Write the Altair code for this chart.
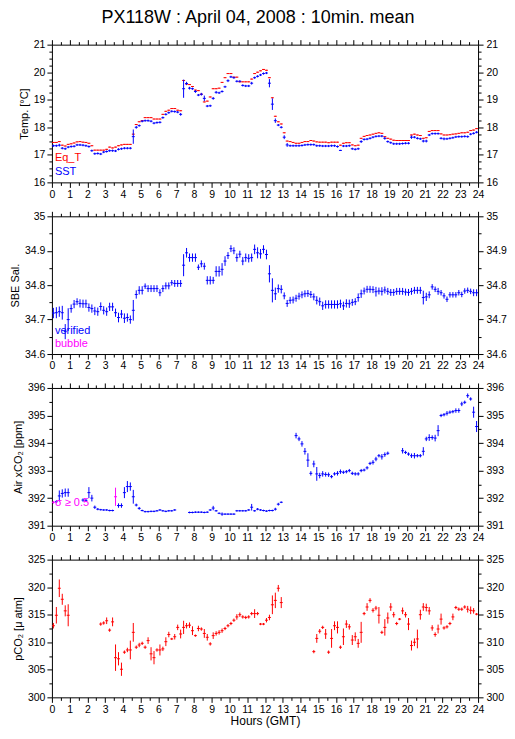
import altair as alt
import pandas as pd

FONT = "Liberation Sans"
RED = "#ff0000"
BLUE = "#0000ff"
MAGENTA = "#ff00ff"

TITLE = "PX118W : April 04, 2008 : 10min. mean"
X_TITLE = "Hours (GMT)"

# ---- axis ticks -------------------------------------------------------
hour_ticks = [h / 2 for h in range(49)]            # 0, 0.5, ... 24
temp_ticks = [16, 16.25, 16.5, 16.75, 17, 17.25, 17.5, 17.75, 18, 18.25, 18.5,
              18.75, 19, 19.25, 19.5, 19.75, 20, 20.25, 20.5, 20.75, 21]
sal_ticks = [34.6, 34.65, 34.7, 34.75, 34.8, 34.85, 34.9, 34.95, 35.0]
co2_ticks = [391, 391.5, 392, 392.5, 393, 393.5, 394, 394.5, 395, 395.5, 396]
pco2_ticks = [300, 302.5, 305, 307.5, 310, 312.5, 315, 317.5, 320, 322.5, 325]

# ---- 10-minute means (144 slots per day, one row per hour) -------------
sst = [
    17.33, 17.33, 17.35, 17.24, 17.22, 17.28,
    17.30, 17.31, 17.36, 17.36, 17.35, 17.33,
    17.30, 17.15, 17.04, 17.05, 17.03, 17.10,
    17.12, 17.15, 17.15, 17.14, 17.20, 17.22,
    17.24, 17.24, 17.24, 17.66, 18.00, 18.06,
    18.22, 18.24, 18.24, 18.22, 18.15, 18.17,
    18.18, 18.35, 18.47, 18.53, 18.58, 18.57,
    18.55, 18.47, 19.40, 19.59, 19.42, 19.40,
    19.30, 19.17, 19.20, 19.05, 18.77, 18.78,
    19.05, 19.27, 19.25, 19.30, 19.47, 19.69,
    19.83, 19.80, 19.67, 19.67, 19.52, 19.50,
    19.50, 19.60, 19.80, 19.85, 19.90, 19.95,
    19.97, 19.60, 18.84, 18.24, 18.08, 18.00,
    17.64, 17.36, 17.33, 17.33, 17.33, 17.33,
    17.34, 17.36, 17.37, 17.37, 17.37, 17.33,
    17.33, 17.32, 17.32, 17.32, 17.33, 17.33,
    17.30, 17.16, 17.32, 17.32, 17.33, 17.22,
    17.20, 17.22, 17.48, 17.56, 17.57, 17.60,
    17.64, 17.67, 17.68, 17.68, 17.60, 17.48,
    17.44, 17.40, 17.40, 17.40, 17.41, 17.42,
    17.42, 17.64, 17.64, 17.60, 17.58, 17.50,
    17.50, 17.72, 17.77, 17.77, 17.77, 17.60,
    17.58, 17.58, 17.60, 17.62, 17.65, 17.66,
    17.66, 17.67, 17.66, 17.75, 17.78, 17.82,
]
sst_err = [
    0.04, 0.04, 0.05, 0.04, 0.04, 0.04,
    0.04, 0.04, 0.04, 0.04, 0.04, 0.04,
    0.04, 0.04, 0.04, 0.04, 0.04, 0.04,
    0.04, 0.04, 0.04, 0.04, 0.04, 0.04,
    0.04, 0.04, 0.04, 0.26, 0.05, 0.04,
    0.04, 0.04, 0.04, 0.04, 0.04, 0.04,
    0.04, 0.04, 0.04, 0.04, 0.04, 0.04,
    0.04, 0.05, 0.33, 0.06, 0.05, 0.04,
    0.05, 0.04, 0.05, 0.10, 0.04, 0.04,
    0.05, 0.05, 0.04, 0.04, 0.04, 0.05,
    0.04, 0.04, 0.04, 0.04, 0.04, 0.04,
    0.04, 0.05, 0.04, 0.04, 0.04, 0.04,
    0.04, 0.15, 0.21, 0.08, 0.04, 0.04,
    0.07, 0.07, 0.04, 0.04, 0.04, 0.04,
    0.04, 0.04, 0.04, 0.04, 0.04, 0.04,
    0.04, 0.04, 0.04, 0.04, 0.04, 0.04,
    0.04, 0.02, 0.04, 0.04, 0.04, 0.04,
    0.04, 0.04, 0.05, 0.04, 0.04, 0.04,
    0.04, 0.04, 0.04, 0.04, 0.05, 0.04,
    0.04, 0.04, 0.04, 0.04, 0.04, 0.04,
    0.04, 0.06, 0.04, 0.04, 0.04, 0.05,
    0.05, 0.04, 0.04, 0.04, 0.04, 0.04,
    0.05, 0.04, 0.04, 0.04, 0.04, 0.04,
    0.04, 0.04, 0.04, 0.04, 0.04, 0.04,
]
eq_t = [
    17.45, 17.45, 17.48, 17.35, 17.32, 17.38,
    17.40, 17.43, 17.47, 17.48, 17.46, 17.45,
    17.42, 17.33, 17.17, 17.17, 17.17, 17.17,
    17.20, 17.28, 17.25, 17.28, 17.33, 17.36,
    17.38, 17.38, 17.38, 17.75, 18.10, 18.20,
    18.24, 18.35, 18.35, 18.35, 18.30, 18.30,
    18.30, 18.47, 18.58, 18.62, 18.68, 18.68,
    18.62, 18.60, 19.70, 19.57, 19.55, 19.48,
    19.35, 19.33, 19.20, 18.92, 18.95, 19.10,
    19.40, 19.40, 19.42, 19.63, 19.80, 19.95,
    19.95, 19.82, 19.82, 19.65, 19.65, 19.65,
    19.65, 19.75, 19.95, 20.00, 20.05, 20.10,
    20.07, 19.80, 19.07, 18.40, 18.20, 18.12,
    17.80, 17.50, 17.48, 17.45, 17.42, 17.42,
    17.45, 17.48, 17.48, 17.52, 17.50, 17.47,
    17.46, 17.46, 17.46, 17.44, 17.46, 17.46,
    17.46, 17.35, 17.42, 17.44, 17.44, 17.36,
    17.33, 17.35, 17.60, 17.67, 17.70, 17.72,
    17.75, 17.78, 17.80, 17.78, 17.66, 17.60,
    17.57, 17.53, 17.52, 17.52, 17.52, 17.52,
    17.52, 17.72, 17.75, 17.72, 17.70, 17.60,
    17.62, 17.85, 17.88, 17.88, 17.88, 17.76,
    17.72, 17.72, 17.73, 17.75, 17.76, 17.78,
    17.80, 17.80, 17.82, 17.88, 17.90, 17.95,
]
salinity = [
    34.719, 34.720, 34.723, 34.720, 34.665, 34.700,
    34.732, 34.745, 34.752, 34.747, 34.746, 34.746,
    34.735, 34.732, 34.725, 34.723, 34.738, 34.727,
    34.723, 34.737, 34.737, 34.720, 34.706, 34.716,
    34.704, 34.706, 34.700, 34.727, 34.773, 34.785,
    34.785, 34.797, 34.790, 34.790, 34.790, 34.790,
    34.778, 34.790, 34.798, 34.798, 34.807, 34.805,
    34.805, 34.805, 34.858, 34.894, 34.880, 34.880,
    34.880, 34.852, 34.862, 34.855, 34.814, 34.814,
    34.814, 34.840, 34.840, 34.846, 34.870, 34.886,
    34.906, 34.900, 34.880, 34.890, 34.870, 34.880,
    34.878, 34.880, 34.904, 34.894, 34.891, 34.904,
    34.889, 34.833, 34.785, 34.775, 34.790, 34.788,
    34.769, 34.747, 34.756, 34.757, 34.762, 34.768,
    34.772, 34.775, 34.776, 34.773, 34.766, 34.756,
    34.752, 34.740, 34.744, 34.744, 34.744, 34.744,
    34.744, 34.746, 34.740, 34.747, 34.746, 34.750,
    34.752, 34.764, 34.775, 34.783, 34.788, 34.788,
    34.787, 34.781, 34.783, 34.782, 34.786, 34.782,
    34.779, 34.779, 34.782, 34.782, 34.782, 34.780,
    34.779, 34.782, 34.785, 34.785, 34.785, 34.764,
    34.766, 34.772, 34.795, 34.788, 34.782, 34.778,
    34.769, 34.759, 34.772, 34.772, 34.772, 34.778,
    34.773, 34.783, 34.785, 34.782, 34.778, 34.778,
]
salinity_err = [
    0.015, 0.016, 0.015, 0.020, 0.022, 0.033,
    0.012, 0.012, 0.010, 0.012, 0.012, 0.012,
    0.012, 0.012, 0.012, 0.012, 0.012, 0.012,
    0.012, 0.012, 0.012, 0.012, 0.014, 0.012,
    0.014, 0.012, 0.012, 0.030, 0.012, 0.012,
    0.012, 0.008, 0.010, 0.010, 0.010, 0.010,
    0.010, 0.010, 0.010, 0.010, 0.008, 0.010,
    0.010, 0.010, 0.032, 0.014, 0.012, 0.012,
    0.012, 0.008, 0.010, 0.010, 0.012, 0.012,
    0.010, 0.015, 0.015, 0.018, 0.014, 0.010,
    0.010, 0.010, 0.012, 0.010, 0.012, 0.012,
    0.012, 0.012, 0.014, 0.016, 0.014, 0.012,
    0.014, 0.025, 0.035, 0.018, 0.012, 0.012,
    0.010, 0.010, 0.010, 0.010, 0.010, 0.010,
    0.010, 0.010, 0.010, 0.010, 0.010, 0.012,
    0.012, 0.012, 0.012, 0.012, 0.012, 0.012,
    0.012, 0.012, 0.012, 0.012, 0.012, 0.010,
    0.010, 0.012, 0.012, 0.010, 0.010, 0.010,
    0.010, 0.014, 0.010, 0.012, 0.010, 0.010,
    0.010, 0.010, 0.010, 0.010, 0.010, 0.010,
    0.010, 0.010, 0.010, 0.010, 0.010, 0.020,
    0.012, 0.010, 0.008, 0.008, 0.010, 0.008,
    0.008, 0.008, 0.008, 0.008, 0.008, 0.008,
    0.008, 0.008, 0.008, 0.008, 0.010, 0.010,
]
air_xco2 = [
    391.85, 391.87, 392.08, 392.17, 392.20, 392.20,
    None, None, None, None, 391.93, 391.92,
    392.20, 392.00, 391.67, 391.60, 391.58, 391.57,
    391.57, 391.55, 391.55, 392.05, 391.73, 391.73,
    392.20, 392.42, 392.42, 392.05, 391.75, 391.63,
    391.55, 391.51, 391.51, 391.52, 391.52, 391.54,
    391.57, 391.54, 391.52, 391.54, 391.54, 391.57,
    None, None, None, None, 391.48, 391.48,
    391.49, 391.49, 391.49, 391.48, 391.49, 391.57,
    391.64, 391.54, 391.45, 391.42, 391.42, 391.42,
    391.42, 391.42, 391.54, 391.54, 391.54, 391.54,
    391.57, 391.67, 391.54, 391.60, 391.57, 391.55,
    391.53, 391.55, 391.55, 391.60, 391.78, 391.85,
    None, None, None, None, 394.27, 394.15,
    393.97, 393.70, 393.38, 392.90, 393.24, 392.88,
    392.82, 392.88, 392.86, 392.85, 392.78, 392.88,
    392.90, 392.96, 392.94, 392.96, 393.00, 392.90,
    392.88, 392.88, 393.00, 393.02, 393.10, 393.26,
    393.30, 393.42, 393.54, 393.50, 393.58, 393.63,
    None, None, None, None, 393.72, 393.66,
    393.60, 393.54, 393.54, 393.54, 393.54, 393.70,
    394.15, 394.20, 394.20, 394.18, 394.45, 395.00,
    395.03, 395.08, 395.12, 395.14, 395.18, 395.18,
    395.42, 395.48, 395.72, 395.60, 395.12, 394.60,
]
air_xco2_err = [
    0.05, 0.05, 0.20, 0.15, 0.15, 0.15,
    0.00, 0.00, 0.00, 0.00, 0.06, 0.05,
    0.20, 0.12, 0.06, 0.04, 0.03, 0.03,
    0.03, 0.03, 0.03, 0.33, 0.08, 0.08,
    0.20, 0.20, 0.15, 0.25, 0.05, 0.05,
    0.03, 0.03, 0.03, 0.03, 0.03, 0.03,
    0.03, 0.03, 0.03, 0.03, 0.03, 0.03,
    0.00, 0.00, 0.00, 0.00, 0.03, 0.03,
    0.03, 0.03, 0.03, 0.03, 0.03, 0.03,
    0.08, 0.03, 0.03, 0.06, 0.03, 0.03,
    0.03, 0.03, 0.03, 0.03, 0.03, 0.03,
    0.03, 0.12, 0.03, 0.04, 0.03, 0.03,
    0.03, 0.03, 0.03, 0.05, 0.05, 0.03,
    0.00, 0.00, 0.00, 0.00, 0.10, 0.08,
    0.10, 0.12, 0.25, 0.08, 0.12, 0.25,
    0.10, 0.10, 0.08, 0.08, 0.06, 0.06,
    0.08, 0.08, 0.06, 0.06, 0.06, 0.06,
    0.06, 0.06, 0.06, 0.05, 0.06, 0.06,
    0.08, 0.08, 0.06, 0.10, 0.08, 0.06,
    0.00, 0.00, 0.00, 0.00, 0.10, 0.06,
    0.06, 0.08, 0.10, 0.06, 0.06, 0.15,
    0.08, 0.12, 0.08, 0.12, 0.20, 0.06,
    0.06, 0.08, 0.06, 0.06, 0.08, 0.08,
    0.08, 0.06, 0.08, 0.06, 0.20, 0.20,
]
air_xco2_flag = [  # 1 = sigma >= 0.5 (magenta)
    1, 0, 0, 0, 0, 0,  0, 0, 0, 0, 0, 0,  0, 0, 0, 0, 0, 0,
    0, 0, 0, 1, 0, 0,  0, 0, 0, 0, 0, 0,  0, 0, 0, 0, 0, 0,
    0, 0, 0, 0, 0, 0,  0, 0, 0, 0, 0, 0,  0, 0, 0, 0, 0, 0,
    0, 0, 0, 0, 0, 0,  0, 0, 0, 0, 0, 0,  0, 0, 0, 0, 0, 0,
    0, 0, 0, 0, 0, 0,  0, 0, 0, 0, 0, 0,  0, 0, 0, 0, 0, 0,
    0, 0, 0, 0, 0, 0,  0, 0, 0, 0, 0, 0,  0, 0, 0, 0, 0, 0,
    0, 0, 0, 0, 0, 0,  0, 0, 0, 0, 0, 0,  0, 0, 0, 0, 0, 0,
    0, 0, 0, 0, 0, 0,  0, 0, 0, 0, 0, 0,  0, 0, 0, 0, 0, 0,
]
pco2 = [
    313.0, 314.9, 319.8, 317.8, 315.7, 314.9,
    None, None, None, None, None, None,
    None, None, None, None, 313.3, 313.5,
    313.9, 312.2, 313.7, 307.2, 307.0, 305.1,
    308.2, 308.6, 308.6, 311.8, 309.1, 309.5,
    309.8, 309.1, 310.3, 307.9, 307.2, 308.6,
    308.6, 308.8, 310.1, 311.4, 310.6, 311.0,
    312.7, 311.5, 312.7, 313.0, 313.1, 312.1,
    311.2, 312.5, 312.4, 311.6, 310.9, 309.7,
    311.2, 311.6, 311.8, 312.1, 312.5, 313.0,
    313.4, 314.0, 314.6, 315.0, 314.6, 314.5,
    314.6, 315.2, 315.2, 315.2, 313.3, 313.3,
    314.0, 314.5, 316.8, 317.6, 319.8, 317.2,
    None, None, None, None, None, None,
    None, None, None, None, 308.3, 310.7,
    312.0, 312.7, 311.5, 308.2, 310.7, 313.0,
    312.7, 309.1, 311.0, 313.3, 312.8, 310.4,
    311.0, 309.8, 311.8, 315.2, 316.4, 317.6,
    315.8, 316.2, 314.9, 311.8, 312.7, 314.4,
    316.4, 315.0, 313.4, 314.2, 315.7, 315.0,
    313.3, 309.4, 310.0, 310.6, 315.0, 316.4,
    316.3, 315.7, 312.6, 311.4, 312.4, 314.2,
    312.6, 312.8, 313.4, 314.6, 316.3, 316.0,
    316.0, 316.4, 316.0, 315.8, 315.7, 315.1,
]
pco2_err = [
    0.5, 1.5, 1.6, 1.0, 1.0, 2.0,
    0, 0, 0, 0, 0, 0,
    0, 0, 0, 0, 0.3, 0.3,
    0.6, 0.3, 0.8, 2.4, 1.2, 1.2,
    0.3, 0.4, 1.7, 1.7, 0.3, 0.4,
    0.3, 0.3, 0.6, 1.2, 1.2, 0.3,
    1.0, 0.4, 0.8, 0.5, 0.2, 0.5,
    0.5, 0.8, 1.2, 0.5, 0.5, 0.8,
    0.2, 0.5, 0.3, 0.8, 0.6, 0.3,
    0.6, 0.4, 0.4, 0.4, 0.3, 0.3,
    0.3, 0.3, 0.5, 0.4, 0.3, 0.3,
    0.3, 0.3, 0.8, 0.3, 0.2, 0.2,
    0.4, 0.5, 1.7, 1.4, 0.6, 1.0,
    0, 0, 0, 0, 0, 0,
    0, 0, 0, 0, 0.3, 0.8,
    0.4, 0.3, 0.9, 0.3, 1.7, 0.8,
    1.1, 0.3, 1.5, 0.7, 0.5, 0.9,
    0.8, 0.8, 1.9, 0.3, 0.7, 0.4,
    0.4, 0.4, 1.5, 0.3, 1.5, 1.0,
    0.7, 0.5, 0.3, 0.2, 0.6, 0.5,
    1.1, 0.9, 0.7, 1.7, 0.9, 0.7,
    0.7, 0.7, 0.5, 0.4, 0.8, 1.0,
    0.3, 0.3, 0.3, 0.6, 0.3, 0.3,
    0.3, 0.3, 0.6, 0.7, 0.5, 0.2,
]

W, H = 427, 138


def slot_frame(values, errs, colors):
    rows = []
    for i, (v, e, c) in enumerate(zip(values, errs, colors)):
        if v is None:
            continue
        rows.append({"slot": i, "v": v, "err": e, "c": c})
    return pd.DataFrame(rows)


def major_test(step):
    return f"abs(datum.value / {step} - round(datum.value / {step})) < 0.001"


def x_axis(orient, labels, title=None):
    test = major_test(1)
    return alt.Axis(
        orient=orient, values=hour_ticks, grid=False, title=title,
        labels=labels, labelOverlap=False, labelFlush=False,
        labelExpr=f"{test} ? format(datum.value, 'd') : ''",
        tickSize={"condition": {"test": test, "value": 5}, "value": 3},
        labelPadding=2, titlePadding=1, titleFontSize=12,
    )


def y_axis(orient, ticks, step, fmt, title=None):
    test = major_test(step)
    return alt.Axis(
        orient=orient, values=ticks, grid=False, title=title,
        labelOverlap=False, labelFlush=False,
        labelExpr=f"{test} ? format(datum.value, '{fmt}') : ''",
        tickSize={"condition": {"test": test, "value": 5}, "value": 3},
        labelPadding=2 if orient == "left" else 3, titlePadding=4,
    )


def panel(df, ydom, ticks, step, fmt, ytitle, texts, xtitle=None):
    xs = alt.Scale(domain=[0, 24], nice=False, zero=False)
    ys = alt.Scale(domain=ydom, nice=False, zero=False)
    base = alt.Chart(df).transform_calculate(
        t="(datum.slot + 0.5) / 6",
        x0="datum.slot / 6",
        x1="(datum.slot + 1) / 6",
        lo="datum.v - datum.err",
        hi="datum.v + datum.err",
    )
    hseg = base.mark_rule(strokeWidth=1, clip=True).encode(
        x=alt.X("x0:Q", scale=xs, axis=x_axis("bottom", True, xtitle)),
        x2="x1:Q",
        y=alt.Y("v:Q", scale=ys, axis=y_axis("left", ticks, step, fmt, ytitle)),
        color=alt.Color("c:N", scale=None),
    )
    vseg = base.mark_rule(strokeWidth=1, clip=True).encode(
        x=alt.X("t:Q", scale=xs, axis=None),
        y=alt.Y("lo:Q", scale=ys, axis=None),
        y2="hi:Q",
        color=alt.Color("c:N", scale=None),
    )
    frame = base.mark_point(opacity=0).encode(
        x=alt.X("t:Q", scale=xs, axis=x_axis("top", False)),
        y=alt.Y("v:Q", scale=ys, axis=y_axis("right", ticks, step, fmt)),
    )
    layers = [hseg, vseg, frame]
    for label, color, ypix in texts:
        layers.append(
            alt.Chart(pd.DataFrame({"label": [label]})).mark_text(
                align="left", baseline="middle", font=FONT, fontSize=11, color=color
            ).encode(x=alt.value(3), y=alt.value(ypix), text="label:N")
        )
    return alt.layer(*layers).resolve_axis(x="independent", y="independent").properties(
        width=W, height=H
    )


n = len(sst)
temp_df = pd.concat([
    slot_frame(eq_t, [0.015] * n, [RED] * n),
    slot_frame(sst, sst_err, [BLUE] * n),
])
sal_df = slot_frame(salinity, salinity_err, [BLUE] * n)
co2_df = slot_frame(air_xco2, air_xco2_err, [MAGENTA if f else BLUE for f in air_xco2_flag])
pco2_df = slot_frame(pco2, pco2_err, [RED] * n)

p1 = panel(temp_df, [16, 21], temp_ticks, 1, "d", "Temp. [°C]",
           [("Eq_T", RED, 114), ("SST", BLUE, 128)])
p2 = panel(sal_df, [34.6, 35.0], sal_ticks, 0.1, ".1~f", "SBE Sal.",
           [("verified", BLUE, 115), ("bubble", MAGENTA, 128)])
p3 = panel(co2_df, [391, 396], co2_ticks, 1, "d", "Air xCO₂ [ppm]",
           [("σ ≥ 0.5", MAGENTA, 115)])
p4 = panel(pco2_df, [300, 325], pco2_ticks, 5, "d", "pCO₂ [μ atm]", [], X_TITLE)

chart = alt.vconcat(p1, p2, p3, p4, spacing=34, bounds="flush").properties(
    title=alt.TitleParams(TITLE, font=FONT, fontSize=18, fontWeight="normal",
                          anchor="middle", color="black", offset=12),
    background="white",
    padding={"left": 1, "top": 0, "right": 0, "bottom": 0},
).configure_view(stroke="transparent").configure_axis(
    domainColor="black", tickColor="black", labelColor="black", titleColor="black",
    labelFont=FONT, titleFont=FONT, labelFontSize=10.5, titleFontSize=11,
    titleFontWeight="normal", domainWidth=1, tickWidth=1,
)

chart.save("out.html", embed_options={"renderer": "svg", "actions": False})
